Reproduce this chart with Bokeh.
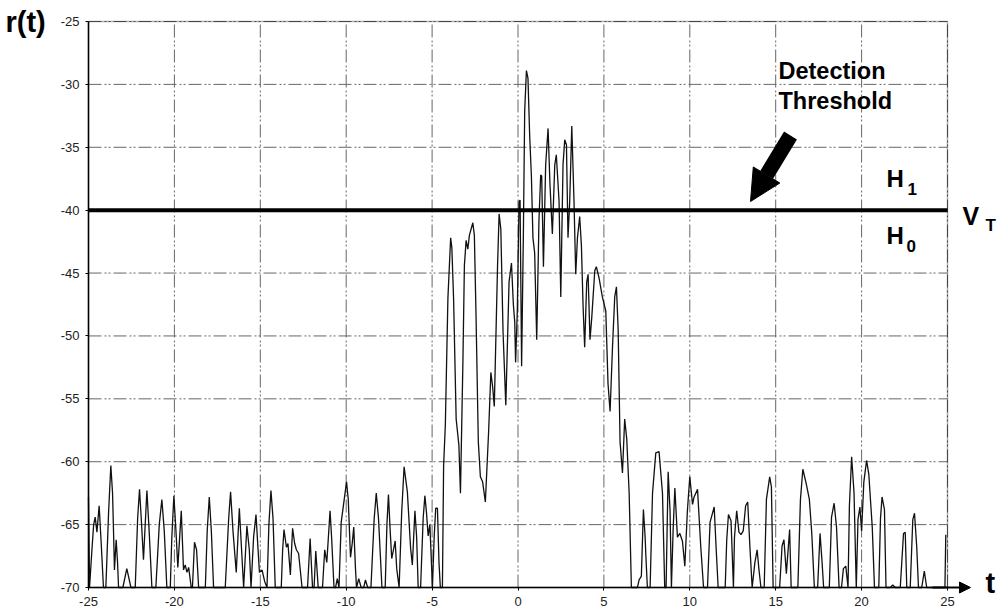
from bokeh.plotting import figure
from bokeh.models import (Range1d, FixedTicker, Label, Arrow, NormalHead,
                          BoxAnnotation)
from bokeh.embed import file_html
from bokeh.resources import INLINE

# ---- received envelope r(t), sampled along the time axis ----
t_noise_left = [
    -25.00, -24.94, -24.80, -24.70, -24.61, -24.51, -24.38, -24.26, -24.13, -23.99,
    -23.83, -23.70, -23.60, -23.52, -23.49, -23.39, -23.31, -23.25, -23.00, -22.77,
    -22.53, -22.28, -22.14, -22.03, -21.93, -21.80, -21.70, -21.60, -21.47, -21.31,
    -21.08, -20.88, -20.73, -20.59, -20.44, -20.24, -20.15, -20.03, -19.91, -19.80,
    -19.60, -19.47, -19.37, -19.27, -19.17, -19.02, -18.95, -18.83, -18.71, -18.59,
    -18.20, -18.09, -17.97, -17.85, -17.72, -17.04, -16.84, -16.73, -16.59, -16.40,
    -16.22, -16.11, -15.97, -15.78, -15.64, -15.54, -15.39, -15.25, -15.13, -15.05,
    -14.90, -14.75, -14.61, -14.50, -14.38, -14.26, -14.13, -13.78, -13.70, -13.62,
    -13.48, -13.39, -13.25, -13.12, -13.00, -12.90, -12.77, -12.57, -12.25, -12.10,
    -11.96, -11.87, -11.77, -11.63, -11.38, -11.25, -11.13, -11.06, -10.94, -10.85,
    -10.71, -10.62, -10.52, -10.42, -10.29, -9.98, -9.88, -9.75, -9.65, -9.56,
    -9.46, -9.40, -9.27, -9.13, -8.98, -8.88, -8.75, -8.56, -8.37, -8.25,
    -8.12, -7.92, -7.73, -7.63, -7.54, -7.44, -7.35, -7.25, -7.15, -7.06,
    -6.92, -6.77, -6.63, -6.44, -6.25, -6.15, -6.00, -5.90, -5.81, -5.67,
    -5.52, -5.42, -5.33, -5.23, -5.13, -5.04, -4.98, -4.88, -4.79, -4.69,
    -4.60, -4.52, -4.40,
]
r_noise_left = [
    -62.8, -70.0, -67.0, -65.0, -64.4, -65.6, -63.5, -66.5, -70.0, -70.0,
    -64.0, -60.3, -62.5, -66.8, -68.6, -66.2, -68.0, -70.0, -70.0, -68.5,
    -70.0, -70.0, -64.5, -62.2, -64.5, -67.8, -65.0, -62.3, -65.5, -70.0,
    -70.0, -65.0, -63.0, -65.5, -70.0, -70.0, -66.0, -62.7, -65.5, -68.4,
    -63.9, -68.6, -68.2, -68.8, -68.4, -70.0, -70.0, -66.4, -67.0, -70.0,
    -70.0, -65.5, -62.8, -65.5, -70.0, -70.0, -64.5, -62.4, -65.5, -68.8,
    -63.7, -66.5, -70.0, -65.1, -67.0, -70.0, -66.0, -64.2, -67.0, -68.8,
    -68.6, -69.5, -70.0, -65.0, -62.3, -64.5, -70.0, -70.0, -67.0, -65.4,
    -66.8, -66.5, -69.0, -65.3, -66.5, -67.0, -67.3, -70.0, -70.0, -66.1,
    -70.0, -70.0, -67.1, -70.0, -70.0, -67.0, -68.0, -66.5, -63.9, -66.0,
    -70.0, -70.0, -69.3, -70.0, -64.8, -61.6, -63.0, -67.6, -66.5, -65.2,
    -68.5, -70.0, -69.3, -70.0, -70.0, -69.4, -70.0, -70.0, -64.5, -62.5,
    -64.5, -70.0, -70.0, -65.0, -62.6, -65.5, -67.7, -67.0, -66.3, -68.5,
    -70.0, -64.0, -60.4, -62.4, -66.9, -68.2, -63.9, -66.0, -70.0, -70.0,
    -64.5, -62.7, -64.0, -65.9, -65.0, -68.0, -70.0, -66.0, -63.7, -63.7,
    -68.0, -70.0, -70.0,
]

t_pulse = [
    -4.33, -4.23, -4.08, -3.92, -3.85, -3.75, -3.60, -3.44, -3.35, -3.21,
    -3.12, -3.02, -2.92, -2.83, -2.63, -2.54, -2.44, -2.31, -2.19, -2.06,
    -1.90, -1.71, -1.58, -1.48, -1.38, -1.19, -1.10, -1.00, -0.87, -0.71,
    -0.52, -0.38, -0.27, -0.19, -0.14, -0.04, 0.06, 0.12, 0.21, 0.31,
    0.39, 0.49, 0.58, 0.68, 0.78, 0.87, 0.97, 1.09, 1.22, 1.32,
    1.38, 1.48, 1.61, 1.75, 1.86, 2.00, 2.14, 2.23, 2.39, 2.49,
    2.62, 2.72, 2.82, 2.91, 3.01, 3.13, 3.26, 3.36, 3.46, 3.59,
    3.69, 3.79, 3.88, 4.00, 4.08, 4.19, 4.29, 4.47, 4.56, 4.72,
    4.91, 5.11, 5.24, 5.36, 5.50, 5.63, 5.73, 5.83, 5.94, 6.08,
    6.21, 6.33, 6.47, 6.60,
]
r_pulse = [
    -60.3, -57.1, -47.0, -42.2, -43.0, -47.0, -56.6, -58.7, -62.5, -52.3,
    -44.4, -42.4, -43.1, -42.0, -41.0, -42.0, -48.6, -58.4, -61.2, -61.6,
    -63.2, -57.6, -52.9, -54.0, -55.6, -44.4, -40.3, -41.5, -49.7, -55.5,
    -45.7, -44.2, -47.5, -48.9, -52.1, -48.0, -39.3, -39.2, -52.4, -42.2,
    -32.1, -28.9, -29.5, -34.1, -37.3, -42.2, -43.4, -50.3, -40.8, -37.2,
    -37.3, -44.5, -36.4, -33.5, -37.9, -41.9, -36.4, -35.6, -39.3, -46.9,
    -36.4, -34.4, -34.8, -42.2, -39.3, -33.3, -39.3, -45.1, -42.2, -40.5,
    -42.8, -47.7, -50.9, -45.7, -45.1, -50.3, -48.6, -44.8, -44.5, -45.4,
    -46.9, -48.0, -53.8, -56.0, -50.9, -46.9, -46.1, -49.5, -58.4, -60.9,
    -56.6, -58.2, -62.5, -70.0,
]

t_noise_right = [
    6.95, 7.05, 7.18, 7.30, 7.40, 7.44, 7.53, 7.69, 7.83, 8.02,
    8.21, 8.41, 8.54, 8.62, 8.74, 8.85, 8.93, 9.03, 9.13, 9.28,
    9.42, 9.57, 9.71, 9.86, 10.00, 10.16, 10.25, 10.45, 10.64, 10.80,
    11.03, 11.18, 11.42, 11.53, 11.65, 12.06, 12.15, 12.25, 12.40, 12.54,
    12.60, 12.73, 12.86, 12.98, 13.11, 13.25, 13.37, 13.50, 13.63, 13.79,
    13.92, 14.02, 14.14, 14.33, 14.46, 14.65, 14.75, 14.85, 15.23, 15.37,
    15.48, 15.62, 15.81, 15.90, 16.29, 16.44, 16.58, 16.77, 16.96, 17.10,
    17.25, 17.44, 17.58, 17.69, 17.79, 18.12, 18.25, 18.40, 18.54, 18.69,
    18.83, 18.94, 19.08, 19.21, 19.29, 19.42, 19.56, 19.69, 19.79, 19.90,
    20.00, 20.13, 20.29, 20.42, 20.62, 20.75, 21.00, 21.10, 21.19, 21.33,
    21.42, 21.67, 21.81, 21.96, 22.25, 22.44, 22.54, 22.63, 22.83, 22.98,
    23.08, 23.21, 23.31, 23.50, 23.65, 23.79, 24.85, 24.90,
]
r_noise_right = [
    -70.0, -69.4, -69.1, -63.8, -66.0, -67.4, -70.0, -70.0, -62.5, -59.3,
    -59.2, -62.5, -70.0, -70.0, -60.8, -63.9, -70.0, -65.4, -62.1, -66.0,
    -65.7, -66.3, -68.3, -63.9, -61.2, -63.4, -62.8, -62.2, -66.8, -70.0,
    -70.0, -64.8, -63.6, -66.8, -70.0, -70.0, -66.2, -64.2, -64.7, -70.0,
    -66.0, -63.9, -65.6, -65.8, -65.5, -63.5, -63.2, -66.8, -70.0, -68.0,
    -67.0, -68.5, -70.0, -70.0, -63.0, -61.2, -62.0, -70.0, -70.0, -66.7,
    -66.2, -68.9, -65.4, -70.0, -70.0, -63.0, -60.6, -61.7, -63.0, -65.7,
    -70.0, -70.0, -65.7, -67.8, -70.0, -70.0, -64.4, -63.3, -65.2, -70.0,
    -70.0, -68.5, -68.3, -70.0, -63.5, -59.6, -62.5, -70.0, -64.6, -63.6,
    -65.5, -61.6, -59.9, -61.0, -65.2, -70.0, -70.0, -64.5, -62.8, -63.8,
    -70.0, -70.0, -69.8, -70.0, -70.0, -65.7, -65.6, -70.0, -70.0, -64.6,
    -64.1, -66.8, -70.0, -70.0, -68.7, -70.0, -70.0, -65.8,
]

threshold = -40.0
x_ticks = [-25, -20, -15, -10, -5, 0, 5, 10, 15, 20, 25]
y_ticks = [-70, -65, -60, -55, -50, -45, -40, -35, -30, -25]
t_min, t_max = x_ticks[0], x_ticks[-1]
r_min, r_max = y_ticks[0], y_ticks[-1]

t_all = t_noise_left + t_pulse + t_noise_right
r_all = r_noise_left + r_pulse + r_noise_right

# ---- canvas geometry (pixels): the plotting box sits at these edges ----
W, H = 1007, 614
BL, BR, BT, BB = 88, 947, 21, 587


def dx(px):
    """canvas x pixel -> t value"""
    return t_min + (px - BL) * (t_max - t_min) / (BR - BL)


def dy(py):
    """canvas y pixel -> r value"""
    return r_max - (py - BT) * (r_max - r_min) / (BB - BT)


# the frame fills the whole canvas so that side texts are not clipped
p = figure(
    width=W, height=H,
    x_range=Range1d(dx(0), dx(W)), y_range=Range1d(dy(H), dy(0)),
    output_backend="svg", toolbar_location=None,
    min_border=0, min_border_left=0, min_border_right=0,
    min_border_top=0, min_border_bottom=0,
    background_fill_color="white", border_fill_color="white",
)
p.outline_line_color = None
p.xgrid.visible = False
p.ygrid.visible = False

# dash-dot-dot grid inside the box
n_x, n_y = len(x_ticks), len(y_ticks)
grid_style = dict(line_color="#666666", line_width=1, line_dash="13 3 2 2 2 3")
p.segment(x0=x_ticks, y0=[r_min] * n_x, x1=x_ticks, y1=[r_max] * n_x, **grid_style)
p.segment(x0=[t_min] * n_y, y0=y_ticks, x1=[t_max] * n_y, y1=y_ticks, **grid_style)

# box border (top and right; left/bottom are the axes)
p.add_layout(BoxAnnotation(left=t_min, right=t_max, bottom=r_min, top=r_max,
                           fill_color=None, line_color="black", line_width=1.5))

p.xaxis.fixed_location = r_min
p.yaxis.fixed_location = t_min
p.xaxis.bounds = (t_min, t_max)
p.yaxis.bounds = (r_min, r_max)
for ax, ticks in ((p.xaxis, x_ticks), (p.yaxis, y_ticks)):
    ax.ticker = FixedTicker(ticks=ticks)
    ax.major_label_overrides = {v: str(v) for v in ticks}
    ax.axis_line_color = "black"
    ax.axis_line_width = 1.5
    ax.major_tick_line_color = "black"
    ax.major_tick_in = 0
    ax.major_tick_out = 3
    ax.minor_tick_line_color = None
    ax.major_label_text_font = "Liberation Sans"
    ax.major_label_text_font_size = "13px"
    ax.major_label_text_color = "#222222"
p.xaxis.major_label_standoff = 6
p.yaxis.major_label_standoff = 6

# received signal
p.line(t_all, r_all, line_color="#111111", line_width=1.3)

# detection threshold V_T
p.segment(x0=[t_min], y0=[threshold], x1=[t_max], y1=[threshold],
          line_color="black", line_width=4)

# arrow pointing at the threshold
p.add_layout(Arrow(
    end=NormalHead(size=31, fill_color="black", line_color="black"),
    x_start=dx(790), y_start=dy(135), x_end=dx(750), y_end=dy(201),
    line_color="black", line_width=15))

# time-axis arrow
p.add_layout(Arrow(
    end=NormalHead(size=11, fill_color="black", line_color="black"),
    x_start=dx(932), y_start=r_min, x_end=dx(970), y_end=r_min,
    line_color="black", line_width=2))

FONT = "Liberation Sans"


def label(px, py, text, size, bold=True):
    """place text with its baseline at canvas pixel (px, py)"""
    p.add_layout(Label(
        x=dx(px), y=dy(py - 0.4 * size), text=text,
        text_font=FONT, text_font_size=f"{size}px",
        text_font_style="bold" if bold else "normal",
        text_color="black", text_align="left", text_baseline="alphabetic"))


label(5, 33, "r(t)", 29)
label(985, 594, "t", 29)
label(778, 80, "Detection", 23.5)
label(778, 110, "Threshold", 23.5)
label(886, 188, "H", 24)
label(907, 195, "1", 17)
label(886, 245, "H", 24)
label(906, 252, "0", 17)
label(962, 225, "V", 25)
label(985, 232, "T", 17)

open("out.html", "w").write(file_html(p, INLINE))
